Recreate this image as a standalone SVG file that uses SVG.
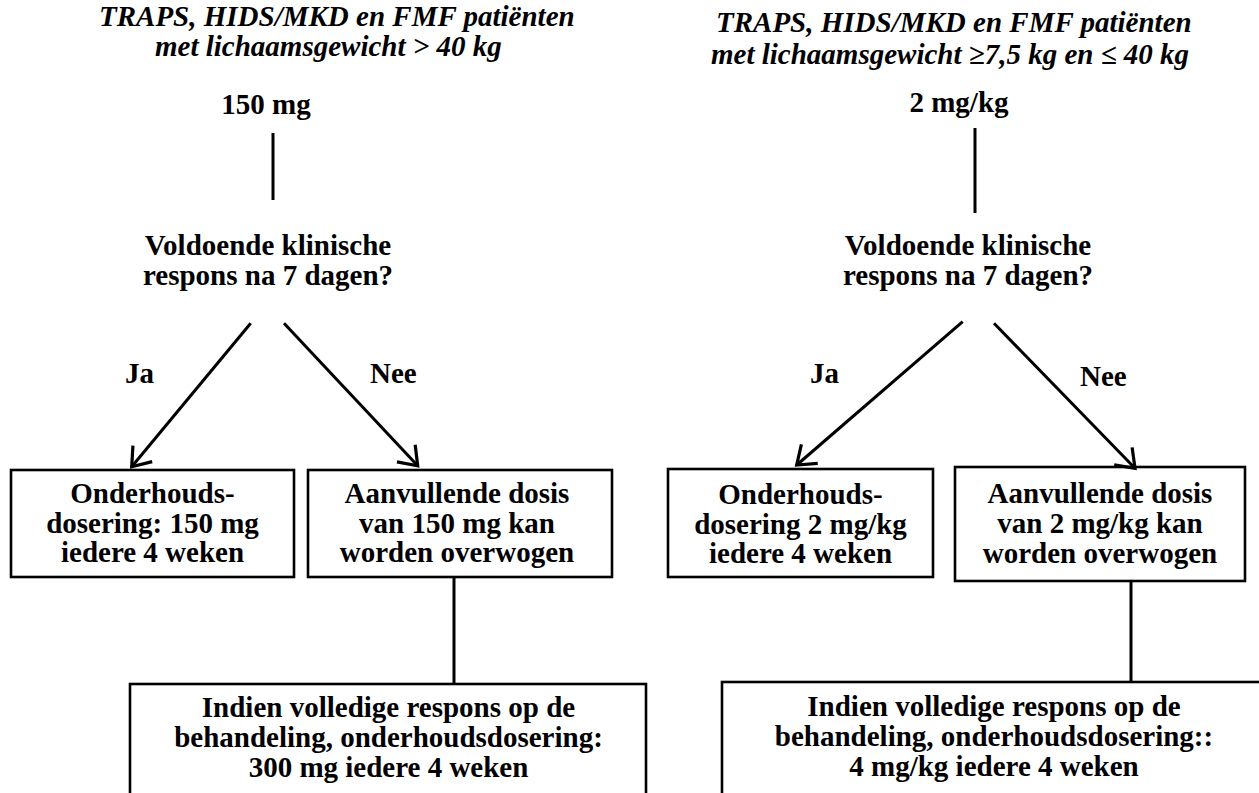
<svg xmlns="http://www.w3.org/2000/svg" width="1259" height="793" viewBox="0 0 1259 793">
<style>
.t{font-family:"Liberation Serif","Times New Roman",serif;font-weight:bold;font-size:29px;fill:#000;text-anchor:middle}
.ti{font-style:italic;text-anchor:start}
.st{text-anchor:start}
.box{fill:#fff;stroke:#000;stroke-width:2.6}
.ln{stroke:#000;stroke-width:3;fill:none}
</style>
<defs>
<marker id="ah" markerUnits="userSpaceOnUse" viewBox="-20 -15 25 30" markerWidth="25" markerHeight="30" refX="0" refY="0" orient="auto" overflow="visible">
<path d="M-17,-12.5 L0,0 L-17,12.5" fill="none" stroke="#000" stroke-width="3.2"/>
</marker>
</defs>
<rect width="1259" height="793" fill="#fff"/>

<g id="title-left">
<text class="t ti" x="99" y="26">TRAPS, HIDS/MKD en FMF patiënten</text>
<text class="t ti" x="155" y="56">met lichaamsgewicht &gt; 40 kg</text>
</g>
<g id="title-right">
<text class="t ti" x="716" y="32">TRAPS, HIDS/MKD en FMF patiënten</text>
<text class="t ti" x="711" y="64">met lichaamsgewicht ≥7,5 kg en ≤ 40 kg</text>
</g>

<g id="dose-left"><text class="t" x="266" y="114">150 mg</text></g>
<g id="dose-right"><text class="t" x="959" y="112">2 mg/kg</text></g>

<g id="question-left">
<text class="t" x="268" y="255">Voldoende klinische</text>
<text class="t" x="268" y="285">respons na 7 dagen?</text>
</g>
<g id="question-right">
<text class="t" x="968" y="255">Voldoende klinische</text>
<text class="t" x="968" y="285">respons na 7 dagen?</text>
</g>

<g id="box-maint-left">
<rect class="box" x="11" y="470" width="283" height="107"/>
<text class="t" x="152.5" y="503">Onderhouds-</text>
<text class="t" x="152.5" y="533">dosering: 150 mg</text>
<text class="t" x="152.5" y="562">iedere 4 weken</text>
</g>
<g id="box-extra-left">
<rect class="box" x="308" y="470" width="304" height="107"/>
<text class="t" x="457" y="503">Aanvullende dosis</text>
<text class="t" x="457" y="533">van 150 mg kan</text>
<text class="t" x="457" y="562">worden overwogen</text>
</g>
<g id="box-maint-right">
<rect class="box" x="668" y="469" width="265" height="108"/>
<text class="t" x="800.5" y="504">Onderhouds-</text>
<text class="t" x="800.5" y="534">dosering 2 mg/kg</text>
<text class="t" x="800.5" y="563">iedere 4 weken</text>
</g>
<g id="box-extra-right">
<rect class="box" x="955" y="467" width="290" height="114"/>
<text class="t" x="1100" y="503">Aanvullende dosis</text>
<text class="t" x="1100" y="533">van 2 mg/kg kan</text>
<text class="t" x="1100" y="563">worden overwogen</text>
</g>
<g id="box-full-left">
<rect class="box" x="130" y="684" width="516" height="140"/>
<text class="t" x="388.5" y="717">Indien volledige respons op de</text>
<text class="t" x="388.5" y="747">behandeling, onderhoudsdosering:</text>
<text class="t" x="388.5" y="777">300 mg iedere 4 weken</text>
</g>
<g id="box-full-right">
<rect class="box" x="722" y="682" width="545" height="140"/>
<text class="t" x="994" y="716">Indien volledige respons op de</text>
<text class="t" x="994" y="746">behandeling, onderhoudsdosering::</text>
<text class="t" x="994" y="776">4 mg/kg iedere 4 weken</text>
</g>

<g id="labels">
<text class="t st" x="125" y="383">Ja</text>
<text class="t st" x="370" y="383">Nee</text>
<text class="t st" x="810" y="383">Ja</text>
<text class="t st" x="1080" y="386">Nee</text>
</g>

<g id="connectors">
<line class="ln" x1="273" y1="133" x2="273" y2="200"/>
<line class="ln" x1="975" y1="128" x2="975" y2="213"/>
<line class="ln" x1="250.7" y1="323.3" x2="131.7" y2="466.7" marker-end="url(#ah)"/>
<line class="ln" x1="284" y1="323.3" x2="417.7" y2="465.7" marker-end="url(#ah)"/>
<line class="ln" x1="962.7" y1="321.7" x2="796.7" y2="465" marker-end="url(#ah)"/>
<line class="ln" x1="994" y1="323.3" x2="1135" y2="468.3" marker-end="url(#ah)"/>
<line class="ln" x1="454" y1="577" x2="454" y2="684"/>
<line class="ln" x1="1131" y1="581" x2="1131" y2="682"/>
</g>
</svg>
